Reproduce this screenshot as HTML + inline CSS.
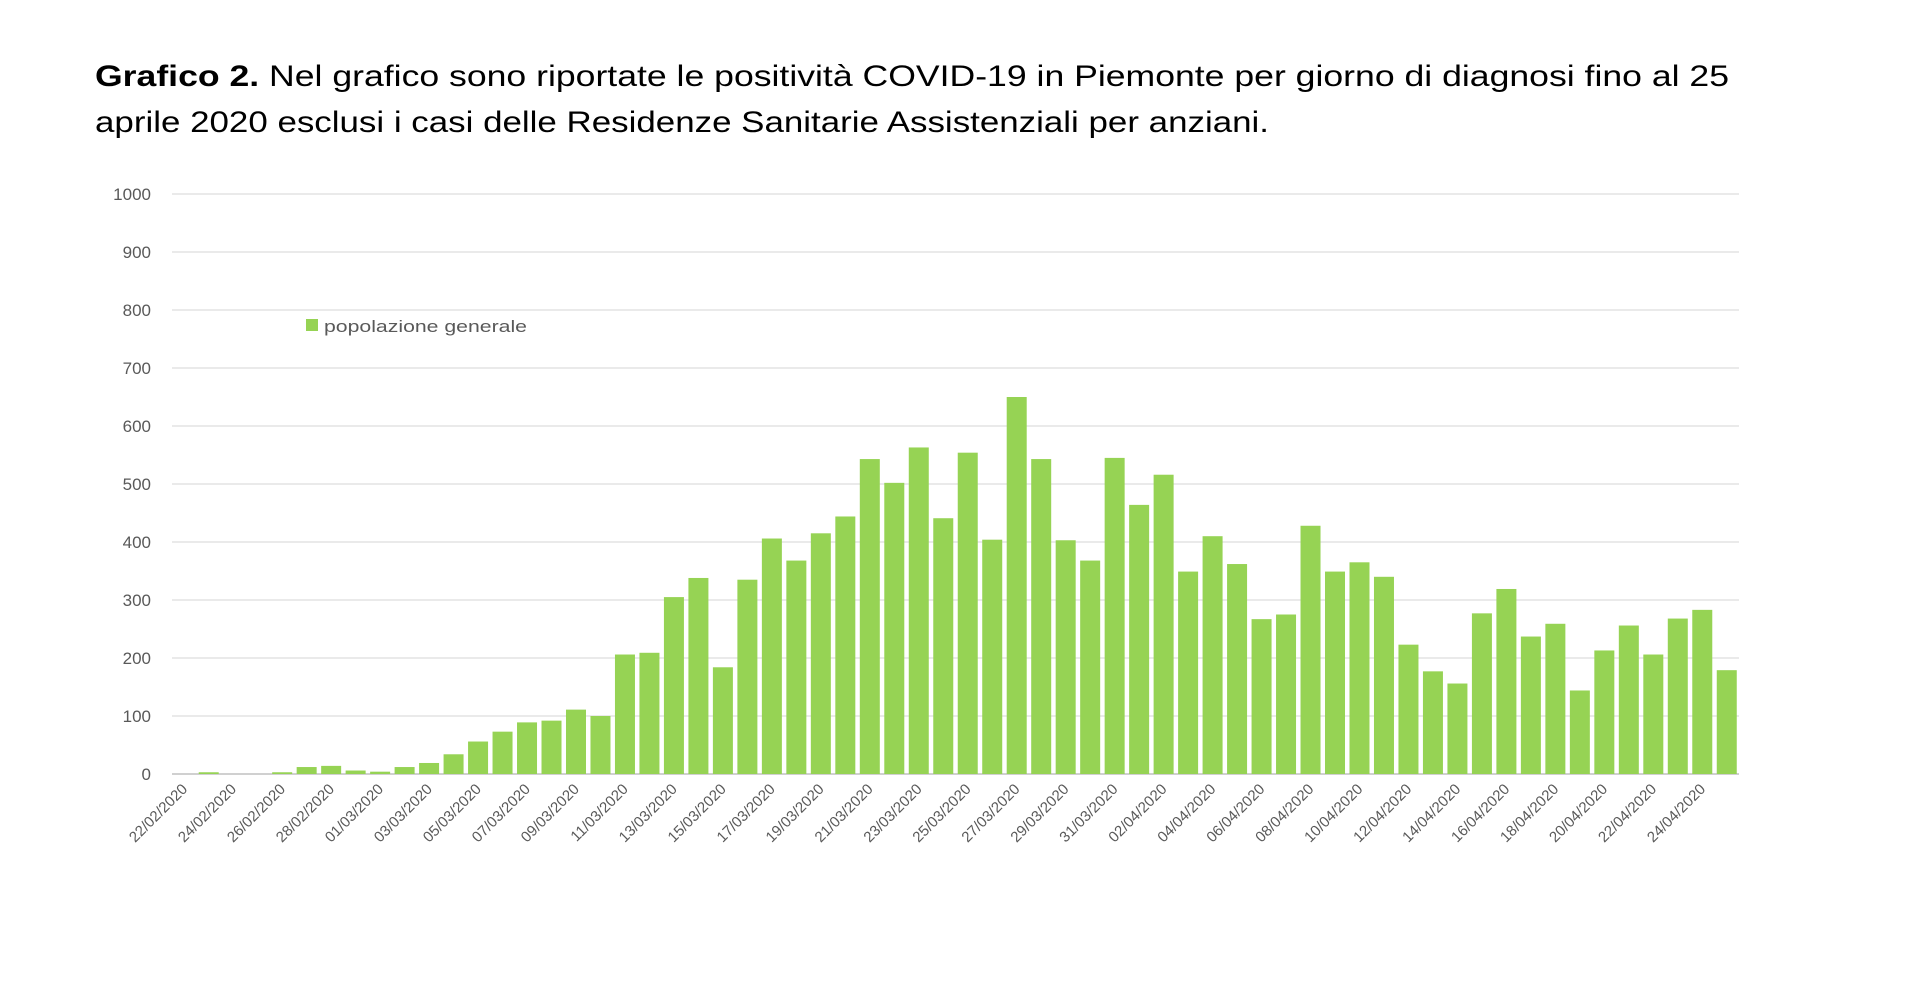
<!DOCTYPE html>
<html><head><meta charset="utf-8"><style>
html,body{margin:0;padding:0;background:#fff;}
svg{display:block;}
</style></head><body>
<svg id="s" width="1912" height="992" xmlns="http://www.w3.org/2000/svg">
<text x="95" y="86" font-family="Liberation Sans, sans-serif" font-size="30" fill="#000" textLength="1634" lengthAdjust="spacingAndGlyphs"><tspan font-weight="bold">Grafico 2.</tspan> Nel grafico sono riportate le positività COVID-19 in Piemonte per giorno di diagnosi fino al 25</text>
<text x="95" y="132" font-family="Liberation Sans, sans-serif" font-size="30" fill="#000" textLength="1174" lengthAdjust="spacingAndGlyphs">aprile 2020 esclusi i casi delle Residenze Sanitarie Assistenziali per anziani.</text>
<g id="g"></g>
<rect x="306" y="319" width="12" height="12" fill="#96d354"/>
<text x="324" y="332" font-family="Liberation Sans, sans-serif" font-size="17" fill="#595959" textLength="203" lengthAdjust="spacingAndGlyphs">popolazione generale</text>
</svg>
<script>
var v=[0,3,0,0,3,12,14,6,4,12,19,34,56,73,89,92,111,100,206,209,305,338,184,335,406,368,415,444,543,502,563,441,554,404,650,543,403,368,545,464,516,349,410,362,267,275,428,349,365,340,223,177,156,277,319,237,259,144,213,256,206,268,283,179];
var g=document.getElementById('g'),h='';
var x0=172,x1=1739,y0=774,k=0.58,p=(x1-x0)/64;
for(var i=0;i<=10;i++){var y=y0-i*100*k;
h+='<line x1="'+x0+'" x2="'+x1+'" y1="'+y+'" y2="'+y+'" stroke="'+(i==0?'#d0d0d0':'#e3e3e3')+'" stroke-width="'+(i==0?2:1.5)+'"/>';
h+='<text x="151" y="'+(y+6)+'" text-anchor="end" font-family="Liberation Sans, sans-serif" font-size="17" fill="#595959">'+(i*100)+'</text>';}
for(var i=0;i<64;i++){var c=x0+p*(i+0.5);
if(v[i]>0)h+='<rect x="'+(c-10)+'" y="'+(y0-v[i]*k)+'" width="20" height="'+(v[i]*k)+'" fill="#96d354"/>';
if(i%2==0){var dd=new Date(2020,1,22+i);var s=('0'+dd.getDate()).slice(-2)+'/'+('0'+(dd.getMonth()+1)).slice(-2)+'/2020';
h+='<text transform="translate('+(c+4)+',790) rotate(-45)" text-anchor="end" font-family="Liberation Sans, sans-serif" font-size="15" fill="#595959">'+s+'</text>';}}
g.innerHTML=h;
</script>
</body></html>
